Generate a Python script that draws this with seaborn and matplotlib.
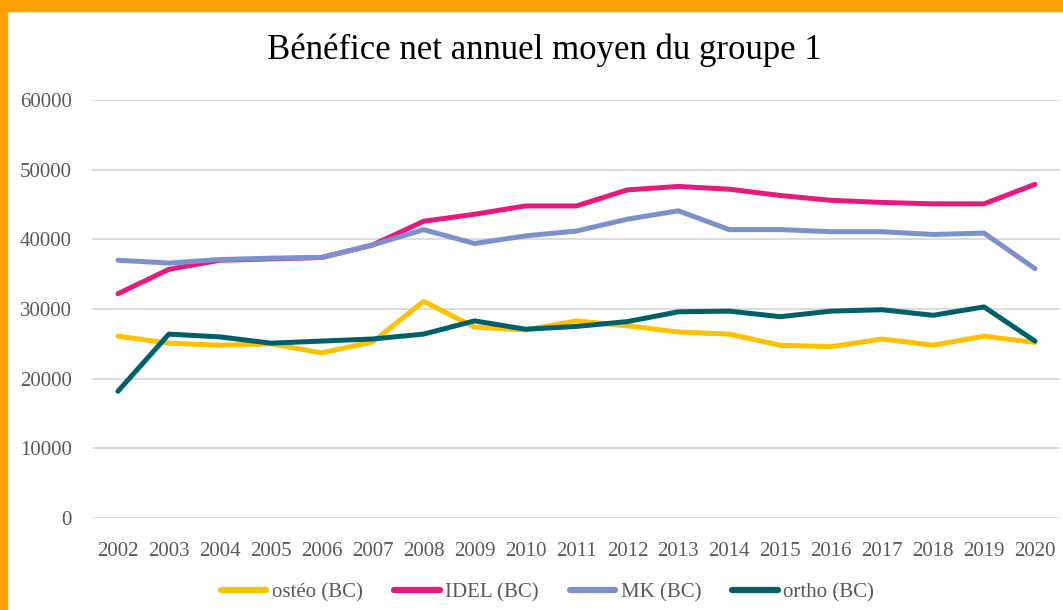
import pandas as pd
import seaborn as sns
import matplotlib.pyplot as plt
from matplotlib.patches import Rectangle

### donnees ###
annees = [str(a) for a in range(2002, 2021)]
osteo = [26100, 25100, 24800, 25000, 23700, 25300, 31100, 27400, 27000, 28300,
         27600, 26700, 26400, 24800, 24600, 25700, 24800, 26100, 25200]
idel = [32200, 35700, 37000, 37200, 37400, 39200, 42600, 43600, 44800, 44800,
        47100, 47600, 47200, 46300, 45600, 45300, 45100, 45100, 47900]
mk = [37000, 36600, 37100, 37300, 37400, 39200, 41400, 39400, 40500, 41200,
      42900, 44100, 41400, 41400, 41100, 41100, 40700, 40900, 35800]
ortho = [18200, 26400, 26000, 25100, 25400, 25700, 26400, 28300, 27100, 27500,
         28200, 29600, 29700, 28900, 29700, 29900, 29100, 30300, 25400]
series = ['ostéo (BC)', 'IDEL (BC)', 'MK (BC)', 'ortho (BC)']
couleurs = ['#FFC000', '#E8187C', '#7C90CE', '#00606A']

df = pd.DataFrame({'annee': annees * 4,
                   'valeur': osteo + idel + mk + ortho,
                   'serie': [s for s in series for _ in annees]})

sns.set_theme(style='white')
plt.rcParams['font.family'] = ['Liberation Serif', 'DejaVu Serif']

fig = plt.figure(figsize=(10.63, 6.10), dpi=100)
ax = fig.add_axes([0.087, 0.1508, 0.9106, 0.6852])

sns.lineplot(data=df, x='annee', y='valeur', hue='serie', palette=couleurs,
             linewidth=3.6, ax=ax, sort=False, solid_capstyle='round')

ax.set_xlim(-0.5, 18.5)
ax.set_ylim(0, 60000)
ax.set_yticks(range(0, 60001, 10000))
ax.yaxis.grid(True, color='#D9D9D9', linewidth=1.3)
ax.set_axisbelow(True)
for s in ax.spines.values():
    s.set_visible(False)
ax.set_xlabel('')
ax.set_ylabel('')
ax.tick_params(axis='y', labelsize=15, labelcolor='#595959', pad=15, length=0)
ax.tick_params(axis='x', labelsize=15, labelcolor='#595959', pad=17, length=0)

fig.suptitle('Bénéfice net annuel moyen du groupe 1', fontsize=25, y=0.945,
             x=0.512, color='black')

leg = ax.legend(loc='center', bbox_to_anchor=(0.47, -0.178), ncol=4, frameon=False,
                fontsize=15, handlelength=2.2, columnspacing=1.5, handletextpad=0.25)
for t in leg.get_texts():
    t.set_color('#595959')
for l in leg.get_lines():
    l.set_linewidth(4.5)

# cadre orange
fig.patches.append(Rectangle((0, 1 - 11 / 610), 1, 11 / 610, transform=fig.transFigure,
                             color='#FF9F00', zorder=0))
fig.patches.append(Rectangle((0, 0), 7 / 1063, 1, transform=fig.transFigure,
                             color='#FF9F00', zorder=0))

fig.savefig('out.png', dpi=100)
